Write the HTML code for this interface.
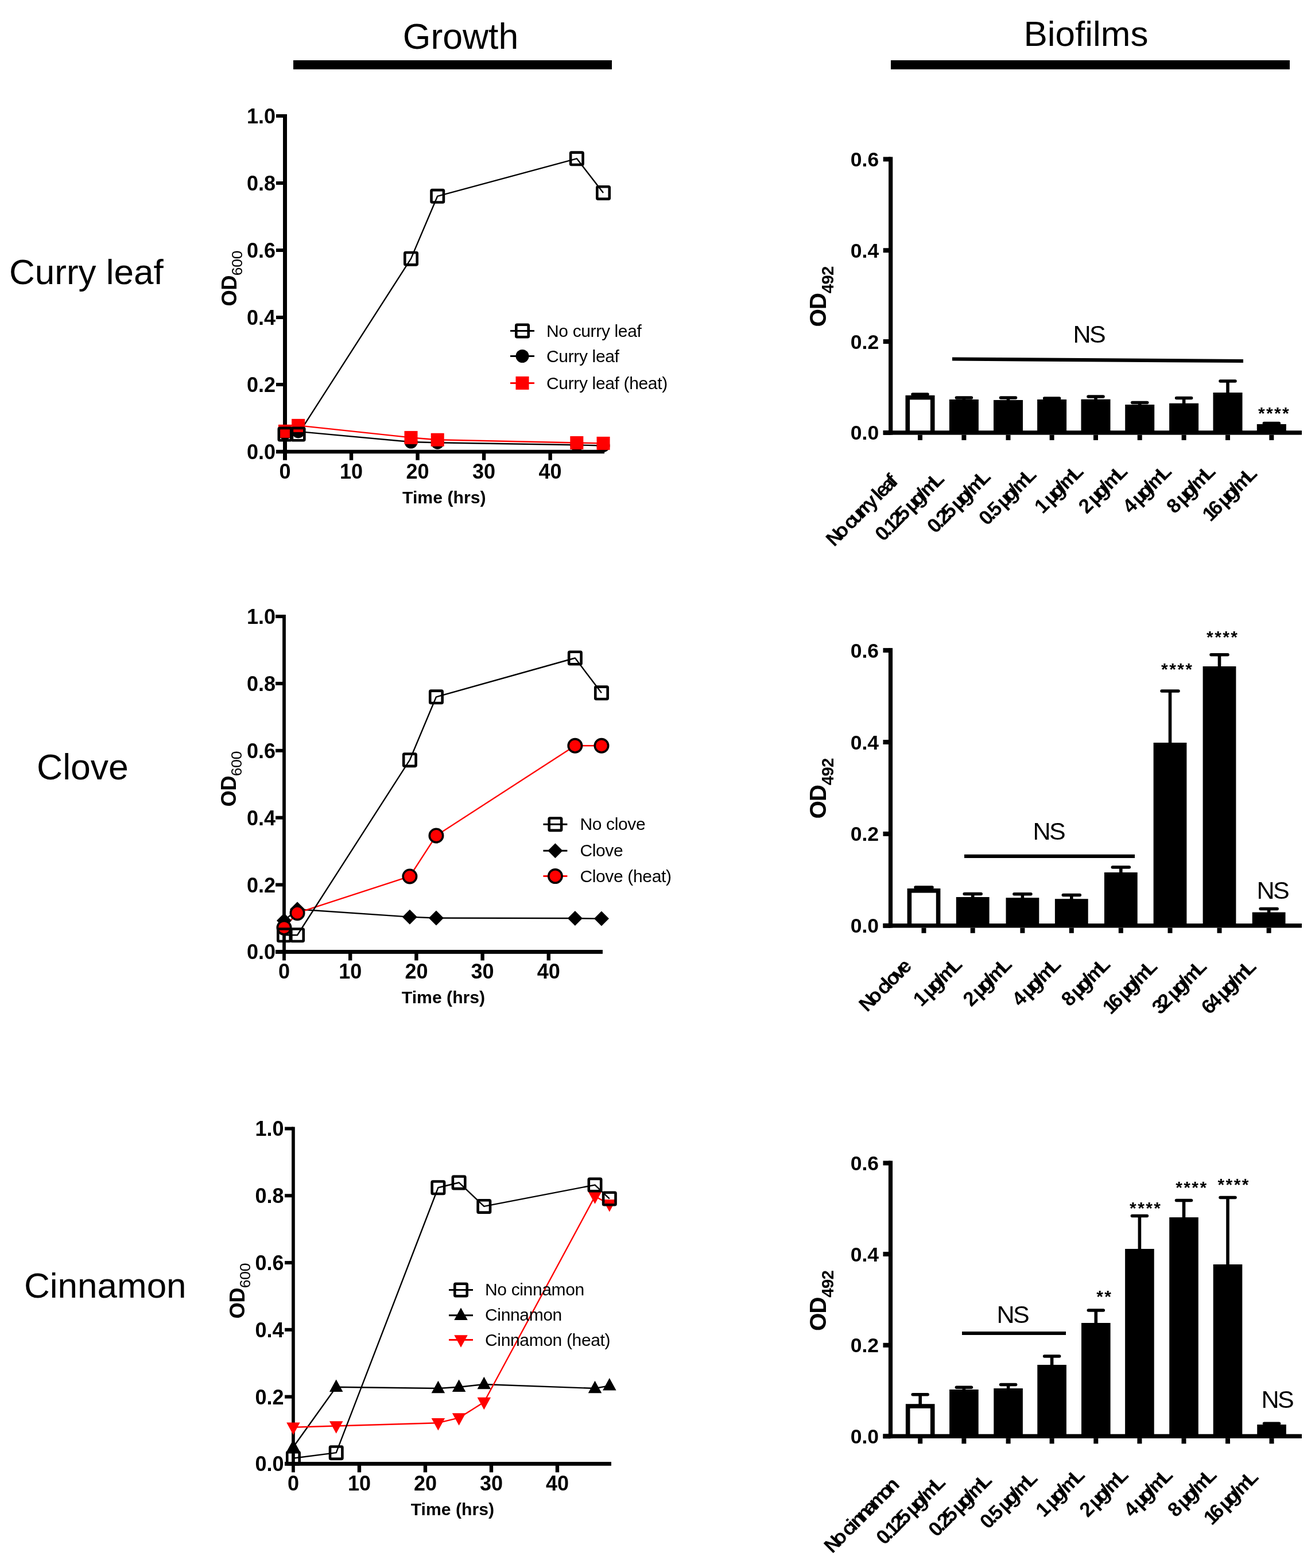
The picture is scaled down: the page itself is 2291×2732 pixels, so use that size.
<!DOCTYPE html>
<html><head><meta charset="utf-8"><title>Growth and Biofilms</title>
<style>
html,body{margin:0;padding:0;background:#fff;}
body{width:2291px;height:2732px;overflow:hidden;}
svg{display:block;font-family:"Liberation Sans", Arial, Helvetica, sans-serif;}
</style></head><body>
<svg width="2291" height="2732" viewBox="0 0 2291 2732">
<rect width="2291" height="2732" fill="#fff"/>
<text x="802.5" y="85" font-size="62.5" font-weight="normal" text-anchor="middle">Growth</text>
<rect x="511" y="105" width="555" height="15.8" fill="#000"/>
<text x="1892" y="80" font-size="62" font-weight="normal" text-anchor="middle">Biofilms</text>
<rect x="1552" y="105" width="695" height="15.8" fill="#000"/>
<text x="16" y="495" font-size="62" font-weight="normal" text-anchor="start">Curry leaf</text>
<text x="64" y="1357.5" font-size="62.5" font-weight="normal" text-anchor="start">Clove</text>
<text x="42" y="2260.5" font-size="62" font-weight="normal" text-anchor="start">Cinnamon</text>
<rect x="493" y="199" width="7" height="602.75" fill="#000"/>
<rect x="481" y="783.75" width="572.04" height="6.5" fill="#000"/>
<rect x="481" y="784" width="15.5" height="6" fill="#000"/>
<text x="480" y="800" font-size="36" font-weight="bold" text-anchor="end">0.0</text>
<rect x="481" y="667" width="15.5" height="6" fill="#000"/>
<text x="480" y="683" font-size="36" font-weight="bold" text-anchor="end">0.2</text>
<rect x="481" y="550" width="15.5" height="6" fill="#000"/>
<text x="480" y="566" font-size="36" font-weight="bold" text-anchor="end">0.4</text>
<rect x="481" y="433" width="15.5" height="6" fill="#000"/>
<text x="480" y="449" font-size="36" font-weight="bold" text-anchor="end">0.6</text>
<rect x="481" y="316" width="15.5" height="6" fill="#000"/>
<text x="480" y="332" font-size="36" font-weight="bold" text-anchor="end">0.8</text>
<rect x="481" y="199" width="15.5" height="6" fill="#000"/>
<text x="480" y="215" font-size="36" font-weight="bold" text-anchor="end">1.0</text>
<text x="496.5" y="834" font-size="36" font-weight="bold" text-anchor="middle">0</text>
<rect x="608.83" y="787" width="6.4" height="14.75" fill="#000"/>
<text x="612.03" y="834" font-size="36" font-weight="bold" text-anchor="middle">10</text>
<rect x="724.36" y="787" width="6.4" height="14.75" fill="#000"/>
<text x="727.56" y="834" font-size="36" font-weight="bold" text-anchor="middle">20</text>
<rect x="839.89" y="787" width="6.4" height="14.75" fill="#000"/>
<text x="843.09" y="834" font-size="36" font-weight="bold" text-anchor="middle">30</text>
<rect x="955.42" y="787" width="6.4" height="14.75" fill="#000"/>
<text x="958.62" y="834" font-size="36" font-weight="bold" text-anchor="middle">40</text>
<text x="773.8" y="877" font-size="30.2" font-weight="bold" text-anchor="middle">Time (hrs)</text>
<text transform="translate(412,533.5) rotate(-90)" font-size="36.3" font-weight="bold" letter-spacing="-0.6">OD<tspan font-size="26.5" font-weight="normal" dy="10" letter-spacing="-0.3">600</tspan></text>
<polyline points="496.5,754.83 519.61,751.9 716.01,770.03 762.22,771.21 1004.83,775.3 1051.04,776.47" fill="none" stroke="#000" stroke-width="2.4" stroke-linejoin="round"/>
<polyline points="496.5,751.32 519.61,741.37 716.01,762.43 762.22,766.23 1004.83,771.5 1051.04,772.38" fill="none" stroke="#ff0000" stroke-width="2.4" stroke-linejoin="round"/>
<polyline points="496.5,756.58 519.61,756.58 716.01,450.62 762.22,341.81 1004.83,276.3 1051.04,335.96" fill="none" stroke="#000" stroke-width="2.4" stroke-linejoin="round"/>
<circle cx="496.5" cy="754.83" r="11.5" fill="#000"/>
<circle cx="519.61" cy="751.9" r="11.5" fill="#000"/>
<circle cx="716.01" cy="770.03" r="11.5" fill="#000"/>
<circle cx="762.22" cy="771.21" r="11.5" fill="#000"/>
<circle cx="1004.83" cy="775.3" r="11.5" fill="#000"/>
<circle cx="1051.04" cy="776.47" r="11.5" fill="#000"/>
<rect x="485" y="739.82" width="23" height="23" fill="#ff0000"/>
<rect x="508.11" y="729.87" width="23" height="23" fill="#ff0000"/>
<rect x="704.51" y="750.93" width="23" height="23" fill="#ff0000"/>
<rect x="750.72" y="754.73" width="23" height="23" fill="#ff0000"/>
<rect x="993.33" y="760" width="23" height="23" fill="#ff0000"/>
<rect x="1039.54" y="760.88" width="23" height="23" fill="#ff0000"/>
<rect x="485.8" y="745.88" width="21.4" height="21.4" fill="none" stroke="#000" stroke-width="4.6" rx="1.5"/>
<rect x="508.91" y="745.88" width="21.4" height="21.4" fill="none" stroke="#000" stroke-width="4.6" rx="1.5"/>
<rect x="705.31" y="439.93" width="21.4" height="21.4" fill="none" stroke="#000" stroke-width="4.6" rx="1.5"/>
<rect x="751.52" y="331.12" width="21.4" height="21.4" fill="none" stroke="#000" stroke-width="4.6" rx="1.5"/>
<rect x="994.13" y="265.6" width="21.4" height="21.4" fill="none" stroke="#000" stroke-width="4.6" rx="1.5"/>
<rect x="1040.34" y="325.26" width="21.4" height="21.4" fill="none" stroke="#000" stroke-width="4.6" rx="1.5"/>
<line x1="889" y1="576.5" x2="931" y2="576.5" stroke="#000" stroke-width="3" stroke-linecap="butt"/>
<rect x="899.3" y="565.8" width="21.4" height="21.4" fill="none" stroke="#000" stroke-width="4.6" rx="1.5"/>
<text x="952" y="587" font-size="30" font-weight="normal" text-anchor="start" letter-spacing="-0.35">No curry leaf</text>
<line x1="889" y1="620.5" x2="931" y2="620.5" stroke="#000" stroke-width="3" stroke-linecap="butt"/>
<circle cx="910" cy="620.5" r="11.5" fill="#000"/>
<text x="952" y="630.7" font-size="30" font-weight="normal" text-anchor="start" letter-spacing="-0.35">Curry leaf</text>
<line x1="889" y1="667.4" x2="931" y2="667.4" stroke="#ff0000" stroke-width="3" stroke-linecap="butt"/>
<rect x="898.5" y="655.9" width="23" height="23" fill="#ff0000"/>
<text x="952" y="677.6" font-size="30" font-weight="normal" text-anchor="start" letter-spacing="-0.35">Curry leaf (heat)</text>
<rect x="492.1" y="1071.05" width="5.8" height="602.35" fill="#000"/>
<rect x="480.1" y="1655" width="569.86" height="6.9" fill="#000"/>
<rect x="480.1" y="1655.45" width="14.9" height="6" fill="#000"/>
<text x="480" y="1671.45" font-size="36" font-weight="bold" text-anchor="end">0.0</text>
<rect x="480.1" y="1538.57" width="14.9" height="6" fill="#000"/>
<text x="480" y="1554.57" font-size="36" font-weight="bold" text-anchor="end">0.2</text>
<rect x="480.1" y="1421.69" width="14.9" height="6" fill="#000"/>
<text x="480" y="1437.69" font-size="36" font-weight="bold" text-anchor="end">0.4</text>
<rect x="480.1" y="1304.81" width="14.9" height="6" fill="#000"/>
<text x="480" y="1320.81" font-size="36" font-weight="bold" text-anchor="end">0.6</text>
<rect x="480.1" y="1187.93" width="14.9" height="6" fill="#000"/>
<text x="480" y="1203.93" font-size="36" font-weight="bold" text-anchor="end">0.8</text>
<rect x="480.1" y="1071.05" width="14.9" height="6" fill="#000"/>
<text x="480" y="1087.05" font-size="36" font-weight="bold" text-anchor="end">1.0</text>
<text x="495" y="1705.45" font-size="36" font-weight="bold" text-anchor="middle">0</text>
<rect x="607" y="1658.45" width="6.4" height="14.95" fill="#000"/>
<text x="610.2" y="1705.45" font-size="36" font-weight="bold" text-anchor="middle">10</text>
<rect x="722.2" y="1658.45" width="6.4" height="14.95" fill="#000"/>
<text x="725.4" y="1705.45" font-size="36" font-weight="bold" text-anchor="middle">20</text>
<rect x="837.4" y="1658.45" width="6.4" height="14.95" fill="#000"/>
<text x="840.6" y="1705.45" font-size="36" font-weight="bold" text-anchor="middle">30</text>
<rect x="952.6" y="1658.45" width="6.4" height="14.95" fill="#000"/>
<text x="955.8" y="1705.45" font-size="36" font-weight="bold" text-anchor="middle">40</text>
<text x="772.5" y="1748.45" font-size="30.2" font-weight="bold" text-anchor="middle">Time (hrs)</text>
<text transform="translate(410.5,1405.5) rotate(-90)" font-size="36.3" font-weight="bold" letter-spacing="-0.6">OD<tspan font-size="26.5" font-weight="normal" dy="10" letter-spacing="-0.3">600</tspan></text>
<polyline points="495,1604.1 518.04,1584.23 713.88,1597.67 759.96,1599.43 1001.88,1600.01 1047.96,1600.59" fill="none" stroke="#000" stroke-width="2.4" stroke-linejoin="round"/>
<polyline points="495,1616.37 518.04,1590.66 713.88,1526.96 759.96,1455.96 1001.88,1299.28 1047.96,1299.28" fill="none" stroke="#ff0000" stroke-width="2.4" stroke-linejoin="round"/>
<polyline points="495,1629.23 518.04,1629.23 713.88,1324.17 759.96,1214.31 1001.88,1146.52 1047.96,1207.29" fill="none" stroke="#000" stroke-width="2.4" stroke-linejoin="round"/>
<polygon points="495,1591.1 508,1604.1 495,1617.1 482,1604.1" fill="#000"/>
<polygon points="518.04,1571.23 531.04,1584.23 518.04,1597.23 505.04,1584.23" fill="#000"/>
<polygon points="713.88,1584.67 726.88,1597.67 713.88,1610.67 700.88,1597.67" fill="#000"/>
<polygon points="759.96,1586.43 772.96,1599.43 759.96,1612.43 746.96,1599.43" fill="#000"/>
<polygon points="1001.88,1587.01 1014.88,1600.01 1001.88,1613.01 988.88,1600.01" fill="#000"/>
<polygon points="1047.96,1587.59 1060.96,1600.59 1047.96,1613.59 1034.96,1600.59" fill="#000"/>
<circle cx="495" cy="1616.37" r="11.7" fill="#ff0000" stroke="#000" stroke-width="3.6"/>
<circle cx="518.04" cy="1590.66" r="11.7" fill="#ff0000" stroke="#000" stroke-width="3.6"/>
<circle cx="713.88" cy="1526.96" r="11.7" fill="#ff0000" stroke="#000" stroke-width="3.6"/>
<circle cx="759.96" cy="1455.96" r="11.7" fill="#ff0000" stroke="#000" stroke-width="3.6"/>
<circle cx="1001.88" cy="1299.28" r="11.7" fill="#ff0000" stroke="#000" stroke-width="3.6"/>
<circle cx="1047.96" cy="1299.28" r="11.7" fill="#ff0000" stroke="#000" stroke-width="3.6"/>
<rect x="484.3" y="1618.53" width="21.4" height="21.4" fill="none" stroke="#000" stroke-width="4.6" rx="1.5"/>
<rect x="507.34" y="1618.53" width="21.4" height="21.4" fill="none" stroke="#000" stroke-width="4.6" rx="1.5"/>
<rect x="703.18" y="1313.47" width="21.4" height="21.4" fill="none" stroke="#000" stroke-width="4.6" rx="1.5"/>
<rect x="749.26" y="1203.61" width="21.4" height="21.4" fill="none" stroke="#000" stroke-width="4.6" rx="1.5"/>
<rect x="991.18" y="1135.82" width="21.4" height="21.4" fill="none" stroke="#000" stroke-width="4.6" rx="1.5"/>
<rect x="1037.26" y="1196.59" width="21.4" height="21.4" fill="none" stroke="#000" stroke-width="4.6" rx="1.5"/>
<line x1="946.4" y1="1436.2" x2="988.4" y2="1436.2" stroke="#000" stroke-width="3" stroke-linecap="butt"/>
<rect x="956.7" y="1425.5" width="21.4" height="21.4" fill="none" stroke="#000" stroke-width="4.6" rx="1.5"/>
<text x="1010.4" y="1445.8" font-size="30" font-weight="normal" text-anchor="start" letter-spacing="-0.35">No clove</text>
<line x1="946.4" y1="1482.3" x2="988.4" y2="1482.3" stroke="#000" stroke-width="3" stroke-linecap="butt"/>
<polygon points="967.4,1469.3 980.4,1482.3 967.4,1495.3 954.4,1482.3" fill="#000"/>
<text x="1010.4" y="1492" font-size="30" font-weight="normal" text-anchor="start" letter-spacing="-0.35">Clove</text>
<line x1="946.4" y1="1526.6" x2="988.4" y2="1526.6" stroke="#ff0000" stroke-width="3" stroke-linecap="butt"/>
<circle cx="967.4" cy="1526.6" r="11.7" fill="#ff0000" stroke="#000" stroke-width="3.6"/>
<text x="1010.4" y="1536.5" font-size="30" font-weight="normal" text-anchor="start" letter-spacing="-0.35">Clove (heat)</text>
<rect x="508.1" y="1963.45" width="5.7" height="601.85" fill="#000"/>
<rect x="496.1" y="2547.1" width="568.85" height="6.7" fill="#000"/>
<rect x="496.1" y="2547.45" width="14.85" height="6" fill="#000"/>
<text x="494.45" y="2563.45" font-size="36" font-weight="bold" text-anchor="end">0.0</text>
<rect x="496.1" y="2430.65" width="14.85" height="6" fill="#000"/>
<text x="494.45" y="2446.65" font-size="36" font-weight="bold" text-anchor="end">0.2</text>
<rect x="496.1" y="2313.85" width="14.85" height="6" fill="#000"/>
<text x="494.45" y="2329.85" font-size="36" font-weight="bold" text-anchor="end">0.4</text>
<rect x="496.1" y="2197.05" width="14.85" height="6" fill="#000"/>
<text x="494.45" y="2213.05" font-size="36" font-weight="bold" text-anchor="end">0.6</text>
<rect x="496.1" y="2080.25" width="14.85" height="6" fill="#000"/>
<text x="494.45" y="2096.25" font-size="36" font-weight="bold" text-anchor="end">0.8</text>
<rect x="496.1" y="1963.45" width="14.85" height="6" fill="#000"/>
<text x="494.45" y="1979.45" font-size="36" font-weight="bold" text-anchor="end">1.0</text>
<text x="510.95" y="2597.45" font-size="36" font-weight="bold" text-anchor="middle">0</text>
<rect x="622.75" y="2550.45" width="6.4" height="14.85" fill="#000"/>
<text x="625.95" y="2597.45" font-size="36" font-weight="bold" text-anchor="middle">10</text>
<rect x="737.75" y="2550.45" width="6.4" height="14.85" fill="#000"/>
<text x="740.95" y="2597.45" font-size="36" font-weight="bold" text-anchor="middle">20</text>
<rect x="852.75" y="2550.45" width="6.4" height="14.85" fill="#000"/>
<text x="855.95" y="2597.45" font-size="36" font-weight="bold" text-anchor="middle">30</text>
<rect x="967.75" y="2550.45" width="6.4" height="14.85" fill="#000"/>
<text x="970.95" y="2597.45" font-size="36" font-weight="bold" text-anchor="middle">40</text>
<text x="788.4" y="2640.45" font-size="30.2" font-weight="bold" text-anchor="middle">Time (hrs)</text>
<text transform="translate(426,2297.5) rotate(-90)" font-size="36.3" font-weight="bold" letter-spacing="-0.6">OD<tspan font-size="26.5" font-weight="normal" dy="10" letter-spacing="-0.3">600</tspan></text>
<polyline points="510.95,2521.25 585.7,2416.71 763.38,2419.05 799.6,2416.71 843.3,2412.04 1036.5,2419.05 1061.8,2414.38" fill="none" stroke="#000" stroke-width="2.4" stroke-linejoin="round"/>
<polyline points="510.95,2486.79 585.7,2484.46 763.38,2479.2 799.6,2470.44 843.3,2442.99 1036.5,2084.42 1061.8,2098.14" fill="none" stroke="#ff0000" stroke-width="2.4" stroke-linejoin="round"/>
<polyline points="510.95,2540.81 585.7,2531.18 763.38,2069.23 799.6,2060.47 843.3,2101.94 1036.5,2064.56 1061.8,2088.51" fill="none" stroke="#000" stroke-width="2.4" stroke-linejoin="round"/>
<polygon points="510.95,2507.92 522.7,2529.42 499.2,2529.42" fill="#000"/>
<polygon points="585.7,2403.38 597.45,2424.88 573.95,2424.88" fill="#000"/>
<polygon points="763.38,2405.72 775.12,2427.22 751.62,2427.22" fill="#000"/>
<polygon points="799.6,2403.38 811.35,2424.88 787.85,2424.88" fill="#000"/>
<polygon points="843.3,2398.71 855.05,2420.21 831.55,2420.21" fill="#000"/>
<polygon points="1036.5,2405.72 1048.25,2427.22 1024.75,2427.22" fill="#000"/>
<polygon points="1061.8,2401.05 1073.55,2422.55 1050.05,2422.55" fill="#000"/>
<polygon points="499.2,2478.62 522.7,2478.62 510.95,2500.12" fill="#ff0000"/>
<polygon points="573.95,2476.29 597.45,2476.29 585.7,2497.79" fill="#ff0000"/>
<polygon points="751.62,2471.03 775.12,2471.03 763.38,2492.53" fill="#ff0000"/>
<polygon points="787.85,2462.27 811.35,2462.27 799.6,2483.77" fill="#ff0000"/>
<polygon points="831.55,2434.82 855.05,2434.82 843.3,2456.32" fill="#ff0000"/>
<polygon points="1024.75,2076.25 1048.25,2076.25 1036.5,2097.75" fill="#ff0000"/>
<polygon points="1050.05,2089.97 1073.55,2089.97 1061.8,2111.47" fill="#ff0000"/>
<rect x="500.25" y="2530.11" width="21.4" height="21.4" fill="none" stroke="#000" stroke-width="4.6" rx="1.5"/>
<rect x="575" y="2520.48" width="21.4" height="21.4" fill="none" stroke="#000" stroke-width="4.6" rx="1.5"/>
<rect x="752.67" y="2058.53" width="21.4" height="21.4" fill="none" stroke="#000" stroke-width="4.6" rx="1.5"/>
<rect x="788.9" y="2049.77" width="21.4" height="21.4" fill="none" stroke="#000" stroke-width="4.6" rx="1.5"/>
<rect x="832.6" y="2091.24" width="21.4" height="21.4" fill="none" stroke="#000" stroke-width="4.6" rx="1.5"/>
<rect x="1025.8" y="2053.86" width="21.4" height="21.4" fill="none" stroke="#000" stroke-width="4.6" rx="1.5"/>
<rect x="1051.1" y="2077.81" width="21.4" height="21.4" fill="none" stroke="#000" stroke-width="4.6" rx="1.5"/>
<line x1="782" y1="2247.5" x2="824" y2="2247.5" stroke="#000" stroke-width="3" stroke-linecap="butt"/>
<rect x="792.3" y="2236.8" width="21.4" height="21.4" fill="none" stroke="#000" stroke-width="4.6" rx="1.5"/>
<text x="845" y="2257.3" font-size="30" font-weight="normal" text-anchor="start" letter-spacing="-0.35">No cinnamon</text>
<line x1="782" y1="2291.8" x2="824" y2="2291.8" stroke="#000" stroke-width="3" stroke-linecap="butt"/>
<polygon points="803,2278.47 814.75,2299.97 791.25,2299.97" fill="#000"/>
<text x="845" y="2301.4" font-size="30" font-weight="normal" text-anchor="start" letter-spacing="-0.35">Cinnamon</text>
<line x1="782" y1="2334.5" x2="824" y2="2334.5" stroke="#ff0000" stroke-width="3" stroke-linecap="butt"/>
<polygon points="791.25,2326.33 814.75,2326.33 803,2347.83" fill="#ff0000"/>
<text x="845" y="2344.9" font-size="30" font-weight="normal" text-anchor="start" letter-spacing="-0.35">Cinnamon (heat)</text>
<rect x="1548.1" y="273.4" width="7.2" height="484.2" fill="#000"/>
<rect x="1538.7" y="750.2" width="729.3" height="7.4" fill="#000"/>
<rect x="1538.7" y="749.9" width="13" height="8" fill="#000"/>
<text x="1531.2" y="766.4" font-size="35.5" font-weight="bold" text-anchor="end">0.0</text>
<rect x="1538.7" y="591.07" width="13" height="8" fill="#000"/>
<text x="1531.2" y="607.57" font-size="35.5" font-weight="bold" text-anchor="end">0.2</text>
<rect x="1538.7" y="432.23" width="13" height="8" fill="#000"/>
<text x="1531.2" y="448.73" font-size="35.5" font-weight="bold" text-anchor="end">0.4</text>
<rect x="1538.7" y="273.4" width="13" height="8" fill="#000"/>
<text x="1531.2" y="289.9" font-size="35.5" font-weight="bold" text-anchor="end">0.6</text>
<rect x="1599" y="757.6" width="8" height="9.3" fill="#000"/>
<rect x="1600.2" y="687" width="5.6" height="3.8" fill="#000"/>
<line x1="1590" y1="687" x2="1616" y2="687" stroke="#000" stroke-width="5.5" stroke-linecap="round"/>
<rect x="1577.5" y="688.8" width="51" height="65.1" fill="#000"/>
<rect x="1585.1" y="696.4" width="35.8" height="53.8" fill="#fff"/>
<rect x="1675.4" y="757.6" width="8" height="9.3" fill="#000"/>
<rect x="1676.6" y="693" width="5.6" height="5" fill="#000"/>
<line x1="1666.4" y1="693" x2="1692.4" y2="693" stroke="#000" stroke-width="5.5" stroke-linecap="round"/>
<rect x="1653.9" y="696" width="51" height="57.9" fill="#000"/>
<rect x="1752.5" y="757.6" width="8" height="9.3" fill="#000"/>
<rect x="1753.7" y="693" width="5.6" height="6" fill="#000"/>
<line x1="1743.5" y1="693" x2="1769.5" y2="693" stroke="#000" stroke-width="5.5" stroke-linecap="round"/>
<rect x="1731" y="697" width="51" height="56.9" fill="#000"/>
<rect x="1828.6" y="757.6" width="8" height="9.3" fill="#000"/>
<rect x="1829.8" y="694" width="5.6" height="4" fill="#000"/>
<line x1="1819.6" y1="694" x2="1845.6" y2="694" stroke="#000" stroke-width="5.5" stroke-linecap="round"/>
<rect x="1807.1" y="696" width="51" height="57.9" fill="#000"/>
<rect x="1905" y="757.6" width="8" height="9.3" fill="#000"/>
<rect x="1906.2" y="691" width="5.6" height="6.7" fill="#000"/>
<line x1="1896" y1="691" x2="1922" y2="691" stroke="#000" stroke-width="5.5" stroke-linecap="round"/>
<rect x="1883.5" y="695.7" width="51" height="58.2" fill="#000"/>
<rect x="1981.7" y="757.6" width="8" height="9.3" fill="#000"/>
<rect x="1982.9" y="701.5" width="5.6" height="5.5" fill="#000"/>
<line x1="1972.7" y1="701.5" x2="1998.7" y2="701.5" stroke="#000" stroke-width="5.5" stroke-linecap="round"/>
<rect x="1960.2" y="705" width="51" height="48.9" fill="#000"/>
<rect x="2058.6" y="757.6" width="8" height="9.3" fill="#000"/>
<rect x="2059.8" y="693.5" width="5.6" height="11.2" fill="#000"/>
<line x1="2049.6" y1="693.5" x2="2075.6" y2="693.5" stroke="#000" stroke-width="5.5" stroke-linecap="round"/>
<rect x="2037.1" y="702.7" width="51" height="51.2" fill="#000"/>
<rect x="2135" y="757.6" width="8" height="9.3" fill="#000"/>
<rect x="2136.2" y="664" width="5.6" height="22" fill="#000"/>
<line x1="2126" y1="664" x2="2152" y2="664" stroke="#000" stroke-width="5.5" stroke-linecap="round"/>
<rect x="2113.5" y="684" width="51" height="69.9" fill="#000"/>
<rect x="2211.3" y="757.6" width="8" height="9.3" fill="#000"/>
<rect x="2212.5" y="737.5" width="5.6" height="3.5" fill="#000"/>
<line x1="2202.3" y1="737.5" x2="2228.3" y2="737.5" stroke="#000" stroke-width="5.5" stroke-linecap="round"/>
<rect x="2189.8" y="739" width="51" height="14.9" fill="#000"/>
<text transform="translate(1453.2,953.7) rotate(-45)" x="0 18.58 34.29 41.44 55.75 71.46 81.47 91.48 105.79 112.94 120.08 134.39 148.7" y="0" font-size="35" font-weight="bold">No curry leaf</text>
<text transform="translate(1538.72,944.58) rotate(-45)" x="0 14.31 21.45 35.76 50.07 64.38 71.52 86.35 102.06 109.2 132.08" y="0" font-size="35" font-weight="bold">0.125 µg/mL</text>
<text transform="translate(1629.58,930.82) rotate(-45)" x="0 14.31 21.45 35.76 50.07 57.22 72.04 87.75 94.9 117.77" y="0" font-size="35" font-weight="bold">0.25 µg/mL</text>
<text transform="translate(1719.45,917.05) rotate(-45)" x="0 14.31 21.45 35.76 42.91 57.73 73.44 80.59 103.46" y="0" font-size="35" font-weight="bold">0.5 µg/mL</text>
<text transform="translate(1816.49,896.41) rotate(-45)" x="0 14.31 21.45 36.28 51.99 59.13 82.01" y="0" font-size="35" font-weight="bold">1 µg/mL</text>
<text transform="translate(1893.19,896.41) rotate(-45)" x="0 14.31 21.45 36.28 51.99 59.13 82.01" y="0" font-size="35" font-weight="bold">2 µg/mL</text>
<text transform="translate(1970.09,896.41) rotate(-45)" x="0 14.31 21.45 36.28 51.99 59.13 82.01" y="0" font-size="35" font-weight="bold">4 µg/mL</text>
<text transform="translate(2046.49,896.41) rotate(-45)" x="0 14.31 21.45 36.28 51.99 59.13 82.01" y="0" font-size="35" font-weight="bold">8 µg/mL</text>
<text transform="translate(2109.02,910.18) rotate(-45)" x="0 14.31 28.62 35.76 50.59 66.3 73.44 96.32" y="0" font-size="35" font-weight="bold">16 µg/mL</text>
<text transform="translate(1439,569.5) rotate(-90)" font-size="40.5" font-weight="bold" letter-spacing="-1.2">OD<tspan font-size="29.5" dy="13" letter-spacing="-0.8">492</tspan></text>
<line x1="1659" y1="625.5" x2="2166" y2="629" stroke="#000" stroke-width="6.2" stroke-linecap="butt"/>
<text x="1869.46" y="597.25" font-size="43" font-weight="normal" text-anchor="start" letter-spacing="-2.6">NS</text>
<text x="2191.9" y="729.9" font-size="30" font-weight="bold" text-anchor="start" letter-spacing="2.4">****</text>
<rect x="1547.9" y="1129.1" width="7.2" height="487.4" fill="#000"/>
<rect x="1538.5" y="1609.1" width="729.5" height="7.4" fill="#000"/>
<rect x="1538.5" y="1608.8" width="13" height="8" fill="#000"/>
<text x="1531" y="1625.3" font-size="35.5" font-weight="bold" text-anchor="end">0.0</text>
<rect x="1538.5" y="1448.9" width="13" height="8" fill="#000"/>
<text x="1531" y="1465.4" font-size="35.5" font-weight="bold" text-anchor="end">0.2</text>
<rect x="1538.5" y="1289" width="13" height="8" fill="#000"/>
<text x="1531" y="1305.5" font-size="35.5" font-weight="bold" text-anchor="end">0.4</text>
<rect x="1538.5" y="1129.1" width="13" height="8" fill="#000"/>
<text x="1531" y="1145.6" font-size="35.5" font-weight="bold" text-anchor="end">0.6</text>
<rect x="1605.5" y="1616.5" width="8" height="9.3" fill="#000"/>
<rect x="1606.7" y="1546" width="5.6" height="4" fill="#000"/>
<line x1="1595" y1="1546" x2="1624" y2="1546" stroke="#000" stroke-width="5.5" stroke-linecap="round"/>
<rect x="1580.6" y="1548" width="57.8" height="64.8" fill="#000"/>
<rect x="1588.2" y="1555.6" width="42.6" height="53.5" fill="#fff"/>
<rect x="1690.7" y="1616.5" width="8" height="9.3" fill="#000"/>
<rect x="1691.9" y="1557.5" width="5.6" height="7.5" fill="#000"/>
<line x1="1680.2" y1="1557.5" x2="1709.2" y2="1557.5" stroke="#000" stroke-width="5.5" stroke-linecap="round"/>
<rect x="1665.8" y="1563" width="57.8" height="49.8" fill="#000"/>
<rect x="1777.4" y="1616.5" width="8" height="9.3" fill="#000"/>
<rect x="1778.6" y="1557.8" width="5.6" height="8.4" fill="#000"/>
<line x1="1766.9" y1="1557.8" x2="1795.9" y2="1557.8" stroke="#000" stroke-width="5.5" stroke-linecap="round"/>
<rect x="1752.5" y="1564.2" width="57.8" height="48.6" fill="#000"/>
<rect x="1862.8" y="1616.5" width="8" height="9.3" fill="#000"/>
<rect x="1864" y="1559.5" width="5.6" height="8.7" fill="#000"/>
<line x1="1852.3" y1="1559.5" x2="1881.3" y2="1559.5" stroke="#000" stroke-width="5.5" stroke-linecap="round"/>
<rect x="1837.9" y="1566.2" width="57.8" height="46.6" fill="#000"/>
<rect x="1948.8" y="1616.5" width="8" height="9.3" fill="#000"/>
<rect x="1950" y="1511" width="5.6" height="11" fill="#000"/>
<line x1="1938.3" y1="1511" x2="1967.3" y2="1511" stroke="#000" stroke-width="5.5" stroke-linecap="round"/>
<rect x="1923.9" y="1520" width="57.8" height="92.8" fill="#000"/>
<rect x="2034.5" y="1616.5" width="8" height="9.3" fill="#000"/>
<rect x="2035.7" y="1204" width="5.6" height="92" fill="#000"/>
<line x1="2024" y1="1204" x2="2053" y2="1204" stroke="#000" stroke-width="5.5" stroke-linecap="round"/>
<rect x="2009.6" y="1294" width="57.8" height="318.8" fill="#000"/>
<rect x="2120.5" y="1616.5" width="8" height="9.3" fill="#000"/>
<rect x="2121.7" y="1140.7" width="5.6" height="22.3" fill="#000"/>
<line x1="2110" y1="1140.7" x2="2139" y2="1140.7" stroke="#000" stroke-width="5.5" stroke-linecap="round"/>
<rect x="2095.6" y="1161" width="57.8" height="451.8" fill="#000"/>
<rect x="2206.6" y="1616.5" width="8" height="9.3" fill="#000"/>
<rect x="2207.8" y="1583.4" width="5.6" height="8.1" fill="#000"/>
<line x1="2196.1" y1="1583.4" x2="2225.1" y2="1583.4" stroke="#000" stroke-width="5.5" stroke-linecap="round"/>
<rect x="2181.7" y="1589.5" width="57.8" height="23.3" fill="#000"/>
<text transform="translate(1510.85,1764.45) rotate(-45)" x="0 18.58 34.29 41.44 55.75 62.89 78.6 92.91" y="0" font-size="35" font-weight="bold">No clove</text>
<text transform="translate(1605.19,1755.31) rotate(-45)" x="0 14.31 21.45 36.28 51.99 59.13 82.01" y="0" font-size="35" font-weight="bold">1 µg/mL</text>
<text transform="translate(1691.89,1755.31) rotate(-45)" x="0 14.31 21.45 36.28 51.99 59.13 82.01" y="0" font-size="35" font-weight="bold">2 µg/mL</text>
<text transform="translate(1777.29,1755.31) rotate(-45)" x="0 14.31 21.45 36.28 51.99 59.13 82.01" y="0" font-size="35" font-weight="bold">4 µg/mL</text>
<text transform="translate(1863.29,1755.31) rotate(-45)" x="0 14.31 21.45 36.28 51.99 59.13 82.01" y="0" font-size="35" font-weight="bold">8 µg/mL</text>
<text transform="translate(1935.22,1769.08) rotate(-45)" x="0 14.31 28.62 35.76 50.59 66.3 73.44 96.32" y="0" font-size="35" font-weight="bold">16 µg/mL</text>
<text transform="translate(2021.22,1769.08) rotate(-45)" x="0 14.31 28.62 35.76 50.59 66.3 73.44 96.32" y="0" font-size="35" font-weight="bold">32 µg/mL</text>
<text transform="translate(2107.32,1769.08) rotate(-45)" x="0 14.31 28.62 35.76 50.59 66.3 73.44 96.32" y="0" font-size="35" font-weight="bold">64 µg/mL</text>
<text transform="translate(1439,1426.5) rotate(-90)" font-size="40.5" font-weight="bold" letter-spacing="-1.2">OD<tspan font-size="29.5" dy="13" letter-spacing="-0.8">492</tspan></text>
<line x1="1680" y1="1491.8" x2="1977" y2="1491.8" stroke="#000" stroke-width="6.2" stroke-linecap="butt"/>
<text x="1799.56" y="1463.2" font-size="43" font-weight="normal" text-anchor="start" letter-spacing="-2.6">NS</text>
<text x="2189.56" y="1566.3" font-size="43" font-weight="normal" text-anchor="start" letter-spacing="-2.6">NS</text>
<text x="2023.1" y="1175.9" font-size="30" font-weight="bold" text-anchor="start" letter-spacing="2.4">****</text>
<text x="2102.1" y="1119.8" font-size="30" font-weight="bold" text-anchor="start" letter-spacing="2.4">****</text>
<rect x="1547.9" y="2022.5" width="7.2" height="483.6" fill="#000"/>
<rect x="1538.5" y="2498.7" width="729.5" height="7.4" fill="#000"/>
<rect x="1538.5" y="2498.4" width="13" height="8" fill="#000"/>
<text x="1531" y="2514.9" font-size="35.5" font-weight="bold" text-anchor="end">0.0</text>
<rect x="1538.5" y="2339.77" width="13" height="8" fill="#000"/>
<text x="1531" y="2356.27" font-size="35.5" font-weight="bold" text-anchor="end">0.2</text>
<rect x="1538.5" y="2181.13" width="13" height="8" fill="#000"/>
<text x="1531" y="2197.63" font-size="35.5" font-weight="bold" text-anchor="end">0.4</text>
<rect x="1538.5" y="2022.5" width="13" height="8" fill="#000"/>
<text x="1531" y="2039" font-size="35.5" font-weight="bold" text-anchor="end">0.6</text>
<rect x="1599.2" y="2506.1" width="8" height="9.3" fill="#000"/>
<rect x="1600.4" y="2429.8" width="5.6" height="18.4" fill="#000"/>
<line x1="1590.2" y1="2429.8" x2="1616.2" y2="2429.8" stroke="#000" stroke-width="5.5" stroke-linecap="round"/>
<rect x="1577.9" y="2446.2" width="50.6" height="56.2" fill="#000"/>
<rect x="1585.5" y="2453.8" width="35.4" height="44.9" fill="#fff"/>
<rect x="1675.4" y="2506.1" width="8" height="9.3" fill="#000"/>
<rect x="1676.6" y="2417.2" width="5.6" height="5.8" fill="#000"/>
<line x1="1666.4" y1="2417.2" x2="1692.4" y2="2417.2" stroke="#000" stroke-width="5.5" stroke-linecap="round"/>
<rect x="1654.1" y="2421" width="50.6" height="81.4" fill="#000"/>
<rect x="1752.6" y="2506.1" width="8" height="9.3" fill="#000"/>
<rect x="1753.8" y="2412.6" width="5.6" height="8.4" fill="#000"/>
<line x1="1743.6" y1="2412.6" x2="1769.6" y2="2412.6" stroke="#000" stroke-width="5.5" stroke-linecap="round"/>
<rect x="1731.3" y="2419" width="50.6" height="83.4" fill="#000"/>
<rect x="1828.6" y="2506.1" width="8" height="9.3" fill="#000"/>
<rect x="1829.8" y="2363" width="5.6" height="17" fill="#000"/>
<line x1="1819.6" y1="2363" x2="1845.6" y2="2363" stroke="#000" stroke-width="5.5" stroke-linecap="round"/>
<rect x="1807.3" y="2378" width="50.6" height="124.4" fill="#000"/>
<rect x="1905.3" y="2506.1" width="8" height="9.3" fill="#000"/>
<rect x="1906.5" y="2283" width="5.6" height="24" fill="#000"/>
<line x1="1896.3" y1="2283" x2="1922.3" y2="2283" stroke="#000" stroke-width="5.5" stroke-linecap="round"/>
<rect x="1884" y="2305" width="50.6" height="197.4" fill="#000"/>
<rect x="1981.4" y="2506.1" width="8" height="9.3" fill="#000"/>
<rect x="1982.6" y="2118.5" width="5.6" height="59.5" fill="#000"/>
<line x1="1972.4" y1="2118.5" x2="1998.4" y2="2118.5" stroke="#000" stroke-width="5.5" stroke-linecap="round"/>
<rect x="1960.1" y="2176" width="50.6" height="326.4" fill="#000"/>
<rect x="2058.5" y="2506.1" width="8" height="9.3" fill="#000"/>
<rect x="2059.7" y="2091.5" width="5.6" height="31.5" fill="#000"/>
<line x1="2049.5" y1="2091.5" x2="2075.5" y2="2091.5" stroke="#000" stroke-width="5.5" stroke-linecap="round"/>
<rect x="2037.2" y="2121" width="50.6" height="381.4" fill="#000"/>
<rect x="2135" y="2506.1" width="8" height="9.3" fill="#000"/>
<rect x="2136.2" y="2086.5" width="5.6" height="118.5" fill="#000"/>
<line x1="2126" y1="2086.5" x2="2152" y2="2086.5" stroke="#000" stroke-width="5.5" stroke-linecap="round"/>
<rect x="2113.7" y="2203" width="50.6" height="299.4" fill="#000"/>
<rect x="2211.5" y="2506.1" width="8" height="9.3" fill="#000"/>
<rect x="2212.7" y="2480.3" width="5.6" height="3.8" fill="#000"/>
<line x1="2202.5" y1="2480.3" x2="2228.5" y2="2480.3" stroke="#000" stroke-width="5.5" stroke-linecap="round"/>
<rect x="2190.2" y="2482.1" width="50.6" height="20.3" fill="#000"/>
<text transform="translate(1449.97,2707.63) rotate(-45)" x="0 18.58 34.29 41.44 55.75 62.89 78.6 94.31 108.62 131.5 147.21" y="0" font-size="35" font-weight="bold">No cinnamon</text>
<text transform="translate(1540.72,2693.08) rotate(-45)" x="0 14.31 21.45 35.76 50.07 64.38 71.52 86.35 102.06 109.2 132.08" y="0" font-size="35" font-weight="bold">0.125 µg/mL</text>
<text transform="translate(1631.68,2679.32) rotate(-45)" x="0 14.31 21.45 35.76 50.07 57.22 72.04 87.75 94.9 117.77" y="0" font-size="35" font-weight="bold">0.25 µg/mL</text>
<text transform="translate(1721.45,2665.55) rotate(-45)" x="0 14.31 21.45 35.76 42.91 57.73 73.44 80.59 103.46" y="0" font-size="35" font-weight="bold">0.5 µg/mL</text>
<text transform="translate(1818.79,2644.91) rotate(-45)" x="0 14.31 21.45 36.28 51.99 59.13 82.01" y="0" font-size="35" font-weight="bold">1 µg/mL</text>
<text transform="translate(1894.89,2644.91) rotate(-45)" x="0 14.31 21.45 36.28 51.99 59.13 82.01" y="0" font-size="35" font-weight="bold">2 µg/mL</text>
<text transform="translate(1971.99,2644.91) rotate(-45)" x="0 14.31 21.45 36.28 51.99 59.13 82.01" y="0" font-size="35" font-weight="bold">4 µg/mL</text>
<text transform="translate(2048.49,2644.91) rotate(-45)" x="0 14.31 21.45 36.28 51.99 59.13 82.01" y="0" font-size="35" font-weight="bold">8 µg/mL</text>
<text transform="translate(2111.22,2658.68) rotate(-45)" x="0 14.31 28.62 35.76 50.59 66.3 73.44 96.32" y="0" font-size="35" font-weight="bold">16 µg/mL</text>
<text transform="translate(1439,2319) rotate(-90)" font-size="40.5" font-weight="bold" letter-spacing="-1.2">OD<tspan font-size="29.5" dy="13" letter-spacing="-0.8">492</tspan></text>
<line x1="1676" y1="2323" x2="1857" y2="2323" stroke="#000" stroke-width="6.2" stroke-linecap="butt"/>
<text x="1736.56" y="2305.2" font-size="43" font-weight="normal" text-anchor="start" letter-spacing="-2.6">NS</text>
<text x="2197.56" y="2453.35" font-size="43" font-weight="normal" text-anchor="start" letter-spacing="-2.6">NS</text>
<text x="1910.2" y="2269.1" font-size="30" font-weight="bold" text-anchor="start" letter-spacing="2.4">**</text>
<text x="1968.1" y="2114.8" font-size="30" font-weight="bold" text-anchor="start" letter-spacing="2.4">****</text>
<text x="2048.2" y="2078.6" font-size="30" font-weight="bold" text-anchor="start" letter-spacing="2.4">****</text>
<text x="2121.5" y="2073.9" font-size="30" font-weight="bold" text-anchor="start" letter-spacing="2.4">****</text>
</svg>
</body></html>
